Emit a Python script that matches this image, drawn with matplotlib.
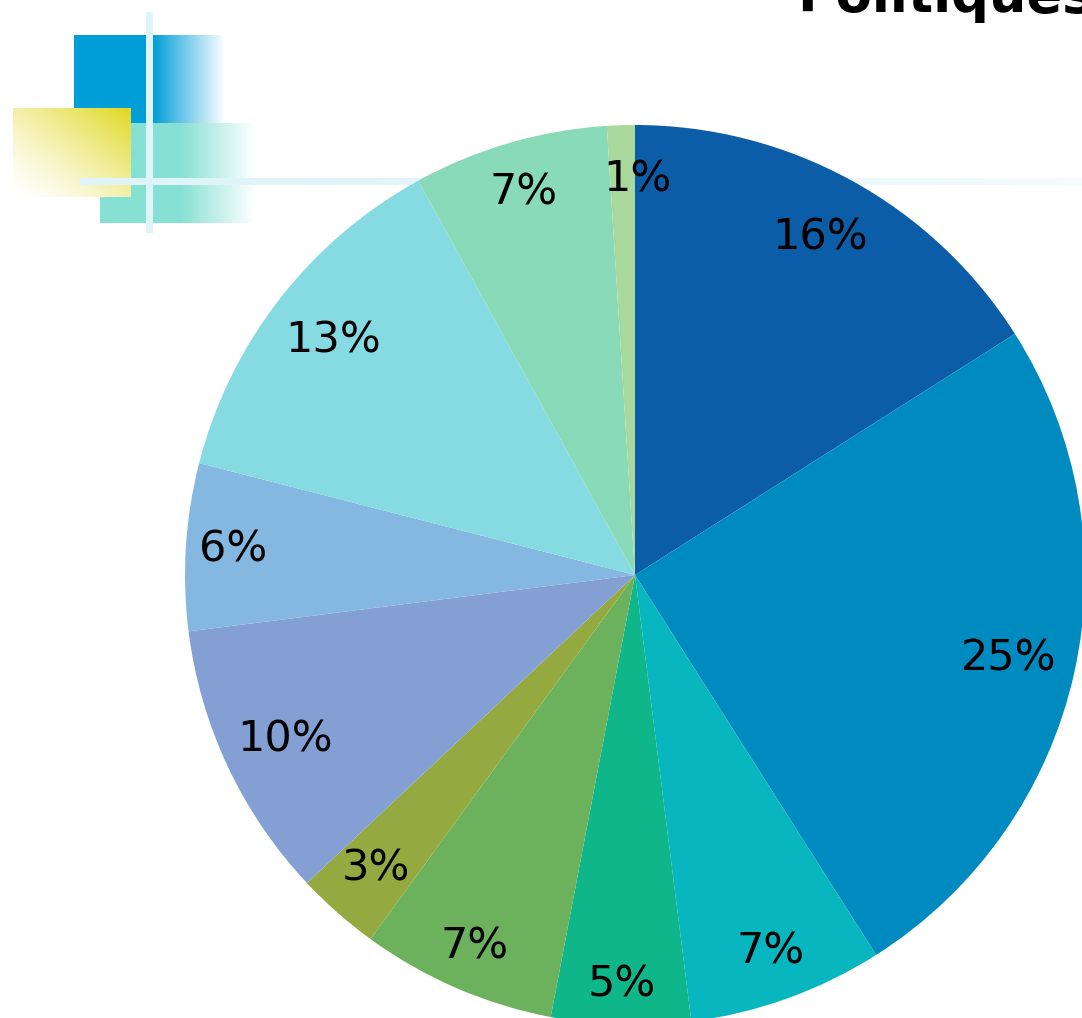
import numpy as np
import matplotlib
matplotlib.use("Agg")
import matplotlib.pyplot as plt
from matplotlib.colors import to_rgb

# ---- data ----
shares = [16, 25, 7, 5, 7, 3, 10, 6, 13, 7, 1]
slice_colors = ["#0c5da8", "#008bc0", "#08b6bf", "#0fb68a", "#6cb15b", "#94a93f",
                "#849fd4", "#85b8e0", "#86dbe2", "#89dab9", "#a9d89c"]
title_text = "Politiques"

# layout (label distance as fraction of radius, and angular nudge in degrees)
label_radius = [0.855, 0.85, 0.89, 0.91, 0.90, 0.87, 0.86, 0.895, 0.85, 0.885, 0.88]
label_nudge = [0, 0, 0, 0, 0, 0, 0, 0, 0, 0, -2.2]

W, H = 1082, 1018
fig = plt.figure(figsize=(W / 100, H / 100), dpi=100)
ax = fig.add_axes([0, 0, 1, 1])


def Y(y):  # pixel-from-top to data
    return H - y


def hgrad(x0, x1, y0, y1, color, solid_until, fade_end, z):
    n = 300
    xs = np.linspace(x0, x1, n)
    frac = np.clip((xs - solid_until) / (fade_end - solid_until), 0, 1)
    c = np.array(to_rgb(color))
    rgb = c[None, :] * (1 - frac[:, None]) + np.ones(3)[None, :] * frac[:, None]
    img = np.ones((2, n, 3))
    img[:, :, :] = rgb[None, :, :]
    ax.imshow(img, extent=(x0, x1, Y(y1), Y(y0)), origin="upper",
              interpolation="bilinear", zorder=z, aspect="auto")


# blue square
hgrad(74, 225, 35, 123, "#009ed8", 153, 225, 1)
# teal rectangle
hgrad(100, 255, 123, 223, "#86e0d3", 180, 255, 2)
# yellow diagonal gradient rectangle (opaque, fades to white)
ny, nx = 100, 130
yy, xx = np.mgrid[0:1:ny * 1j, 0:1:nx * 1j]
t = np.clip((xx + (1 - yy)) / 2.0, 0, 1) ** 1.4  # 1 at top-right, 0 at bottom-left
yc = np.array(to_rgb("#e0d820"))
img = yc[None, None, :] * t[..., None] + np.ones(3)[None, None, :] * (1 - t[..., None])
ax.imshow(img, extent=(13, 131, Y(197), Y(108)), origin="upper",
          interpolation="bilinear", zorder=3, aspect="auto")
# thin light lines
line_col = "#dff4f8"
ax.add_patch(plt.Rectangle((146, Y(233)), 7, 221, color=line_col, zorder=4, lw=0))
hgrad(80, W, 178, 185, line_col, 300, 1500, 4)

# pie
wedges, texts, autotexts = ax.pie(
    shares, colors=slice_colors, startangle=90, counterclock=False,
    center=(635, Y(575)), radius=450, autopct="%.0f%%", pctdistance=0.87,
    wedgeprops=dict(linewidth=0), frame=True,
    textprops=dict(fontsize=31, color="black", family="DejaVu Sans"))
for w in wedges:
    w.set_zorder(5)
ang = 90.0
for i, (s, at) in enumerate(zip(shares, autotexts)):
    mid = np.deg2rad(ang - s * 3.6 / 2 + label_nudge[i])
    ang -= s * 3.6
    r = 450 * label_radius[i]
    at.set_position((635 + r * np.cos(mid), Y(575) + r * np.sin(mid)))
    at.set_zorder(6)
    at.set_ha("center")
    at.set_va("center")

ax.set_xlim(0, W)
ax.set_ylim(0, H)
ax.set_aspect("equal")
ax.axis("off")

ax.text(797, Y(12), title_text, fontsize=38, fontweight="bold", color="black",
        ha="left", va="baseline", zorder=7, family="DejaVu Sans")

fig.savefig("out.png", dpi=100)
